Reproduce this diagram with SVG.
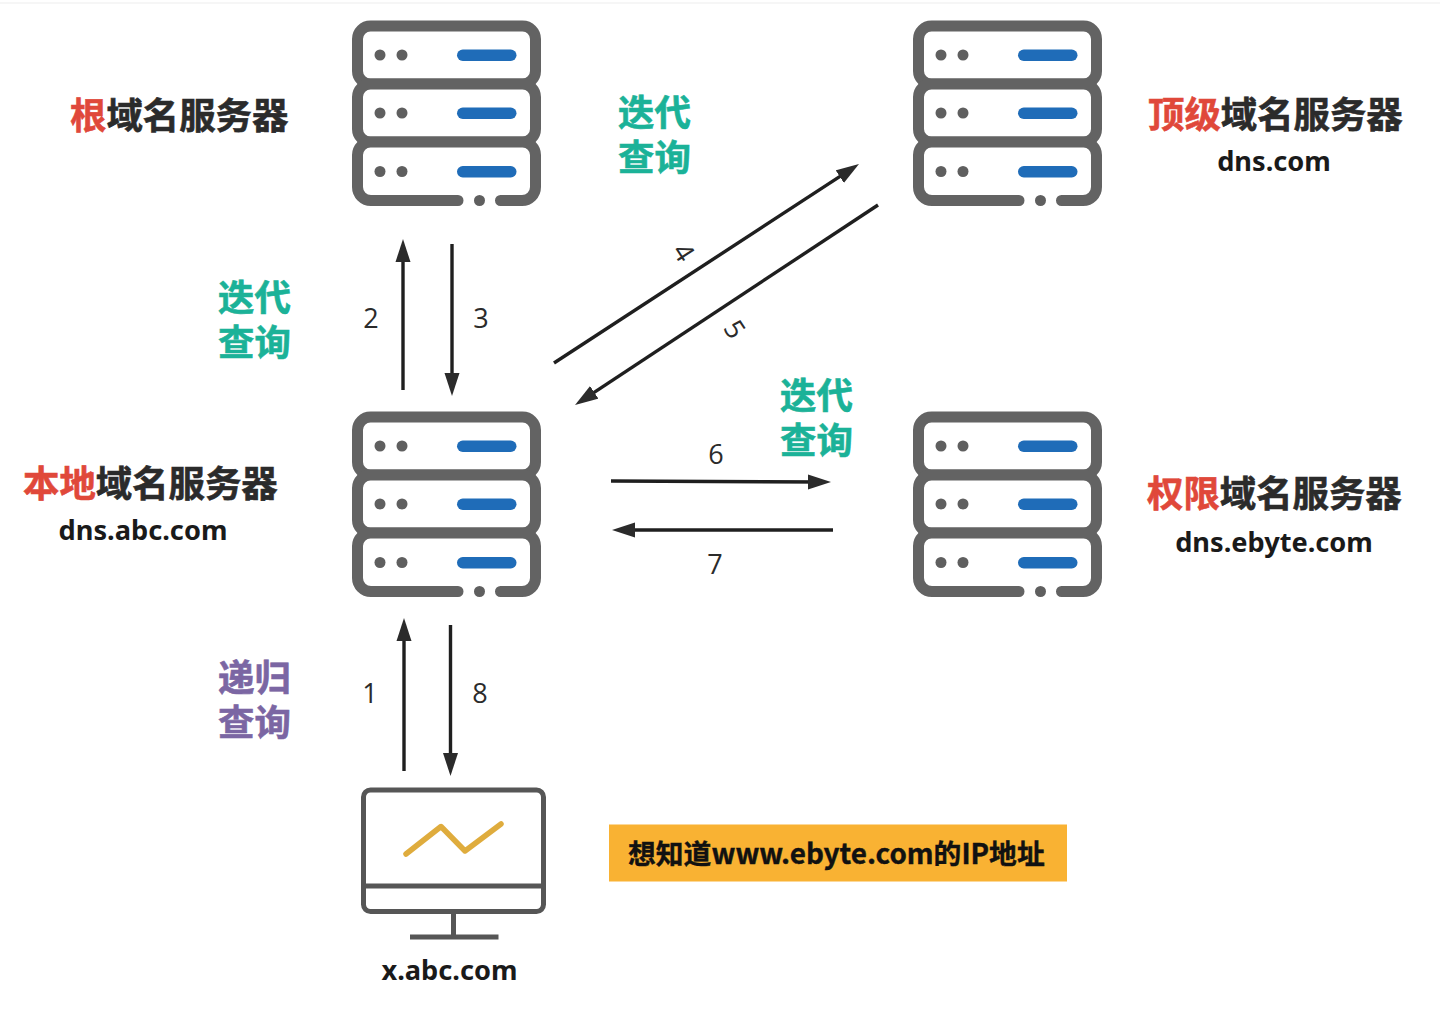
<svg xmlns="http://www.w3.org/2000/svg" width="1440" height="1019" viewBox="0 0 1440 1019">
<style>
.cjk{font-family:"Noto Sans CJK SC","Noto Sans",sans-serif;font-weight:700;font-size:36.4px;stroke-width:.6px}
.dark{fill:#2b2b2b;stroke:#2b2b2b}.red{fill:#e0483a;stroke:#e0483a}.teal{fill:#1bb298;stroke:#1bb298}.pur{fill:#7b66a3;stroke:#7b66a3}
.lat{font-family:"Noto Sans","Open Sans",sans-serif;font-weight:700;font-size:27.2px;fill:#1a1a1a;text-anchor:middle}
.num{font-family:"Open Sans","Noto Sans",sans-serif;font-size:27px;fill:#2b2b2b;text-anchor:middle}
.sv{fill:#fff;stroke:#636363;stroke-width:11}
.dot{fill:#5f5f5f}.bar{fill:#1f6cb8}
.ar{fill:none;stroke:#1f1f1f;stroke-width:3.4}
.mon{fill:none;stroke:#565656;stroke-width:5}
</style>
<defs>
<marker id="ah" markerUnits="userSpaceOnUse" markerWidth="25" markerHeight="17" refX="15" refY="8" orient="auto"><path d="M0 0.500L23 8L0 15.500Z" fill="#2b2b2b"/></marker>
<g id="server">
<rect class="sv" x="357.5" y="26" width="178" height="58" rx="13"/>
<rect class="sv" x="357.5" y="84" width="178" height="58" rx="13"/>
<path class="sv" style="stroke-linecap:round" d="M458 200.500H371a13.500 13.500 0 0 1-13.500-13.500V155a13 13 0 0 1 13-13H522.500a13 13 0 0 1 13 13V187a13.500 13.500 0 0 1-13.500 13.500H500.500"/>
<g class="dot"><circle cx="380" cy="55" r="5.500"/><circle cx="402" cy="55" r="5.500"/><circle cx="380" cy="113" r="5.500"/><circle cx="402" cy="113" r="5.500"/><circle cx="380" cy="171.500" r="5.500"/><circle cx="402" cy="171.500" r="5.500"/><circle cx="479.500" cy="200.500" r="5.500"/></g>
<g class="bar"><rect x="457" y="49.500" width="59.500" height="11.500" rx="5.750"/><rect x="457" y="107.500" width="59.500" height="11.500" rx="5.750"/><rect x="457" y="166" width="59.500" height="11.500" rx="5.750"/></g>
</g>
</defs>
<rect width="1440" height="1019" fill="#fff"/>
<rect y="2" width="1440" height="2" fill="#f6f6f6"/>
<g id="connectors">
<path class="ar" marker-end="url(#ah)" d="M403 390V247"/>
<path class="ar" marker-end="url(#ah)" d="M452 244V388"/>
<path class="ar" marker-end="url(#ah)" d="M404 771V626"/>
<path class="ar" marker-end="url(#ah)" d="M450.500 625V768"/>
<path class="ar" marker-end="url(#ah)" d="M611 481L823 482"/>
<path class="ar" marker-end="url(#ah)" d="M833 530H620"/>
<path class="ar" marker-end="url(#ah)" d="M554 363L852.300 168.400"/>
<path class="ar" marker-end="url(#ah)" d="M878 205L581.700 400.600"/>
<text class="num" x="371" y="328">2</text>
<text class="num" x="481" y="328">3</text>
<text class="num" x="370" y="703">1</text>
<text class="num" x="480" y="703">8</text>
<text class="num" x="716" y="464">6</text>
<text class="num" x="715" y="574">7</text>
<text class="num" transform="translate(684 252) rotate(57)" y="10">4</text>
<text class="num" transform="translate(735 329) rotate(57)" y="10">5</text>
<g class="cjk teal"><text x="618" y="126">迭代</text><text x="618" y="171">查询</text><text x="218" y="311">迭代</text><text x="218" y="356">查询</text><text x="780" y="409">迭代</text><text x="780" y="454">查询</text></g>
<g class="cjk pur"><text x="218" y="691">递归</text><text x="218" y="736">查询</text></g>
</g>
<g id="root-server"><use href="#server"/><text class="cjk dark" x="70" y="129"><tspan class="red">根</tspan>域名服务器</text></g>
<g id="tld-server"><use href="#server" x="561"/><text class="cjk dark" x="1148" y="128"><tspan class="red">顶级</tspan>域名服务器</text><text class="lat" x="1274" y="171">dns.com</text></g>
<g id="local-server"><use href="#server" y="391"/><text class="cjk dark" x="23" y="497"><tspan class="red">本地</tspan>域名服务器</text><text class="lat" x="143" y="540">dns.abc.com</text></g>
<g id="auth-server"><use href="#server" x="561" y="391"/><text class="cjk dark" x="1147" y="507"><tspan class="red">权限</tspan>域名服务器</text><text class="lat" x="1274" y="552">dns.ebyte.com</text></g>
<g id="client">
<rect class="mon" x="363.500" y="790" width="180" height="121.500" rx="7"/>
<path class="mon" d="M363.500 886H543.500M453.500 911.500V937M410 937H498.500"/>
<path d="M406 854L441 826.500L465 851L501 824" fill="none" stroke="#dfac3d" stroke-width="5.500" stroke-linecap="round" stroke-linejoin="round"/>
<text class="lat" x="449.500" y="980">x.abc.com</text>
</g>
<g id="note"><rect x="609" y="824.500" width="458" height="57" fill="#f9b233"/><text x="628" y="864" style="font-family:'Noto Sans CJK SC','Noto Sans',sans-serif;font-weight:700;font-size:27.8px;fill:#111;stroke:#111;stroke-width:.4px">想知道www.ebyte.com的IP地址</text></g>
</svg>
